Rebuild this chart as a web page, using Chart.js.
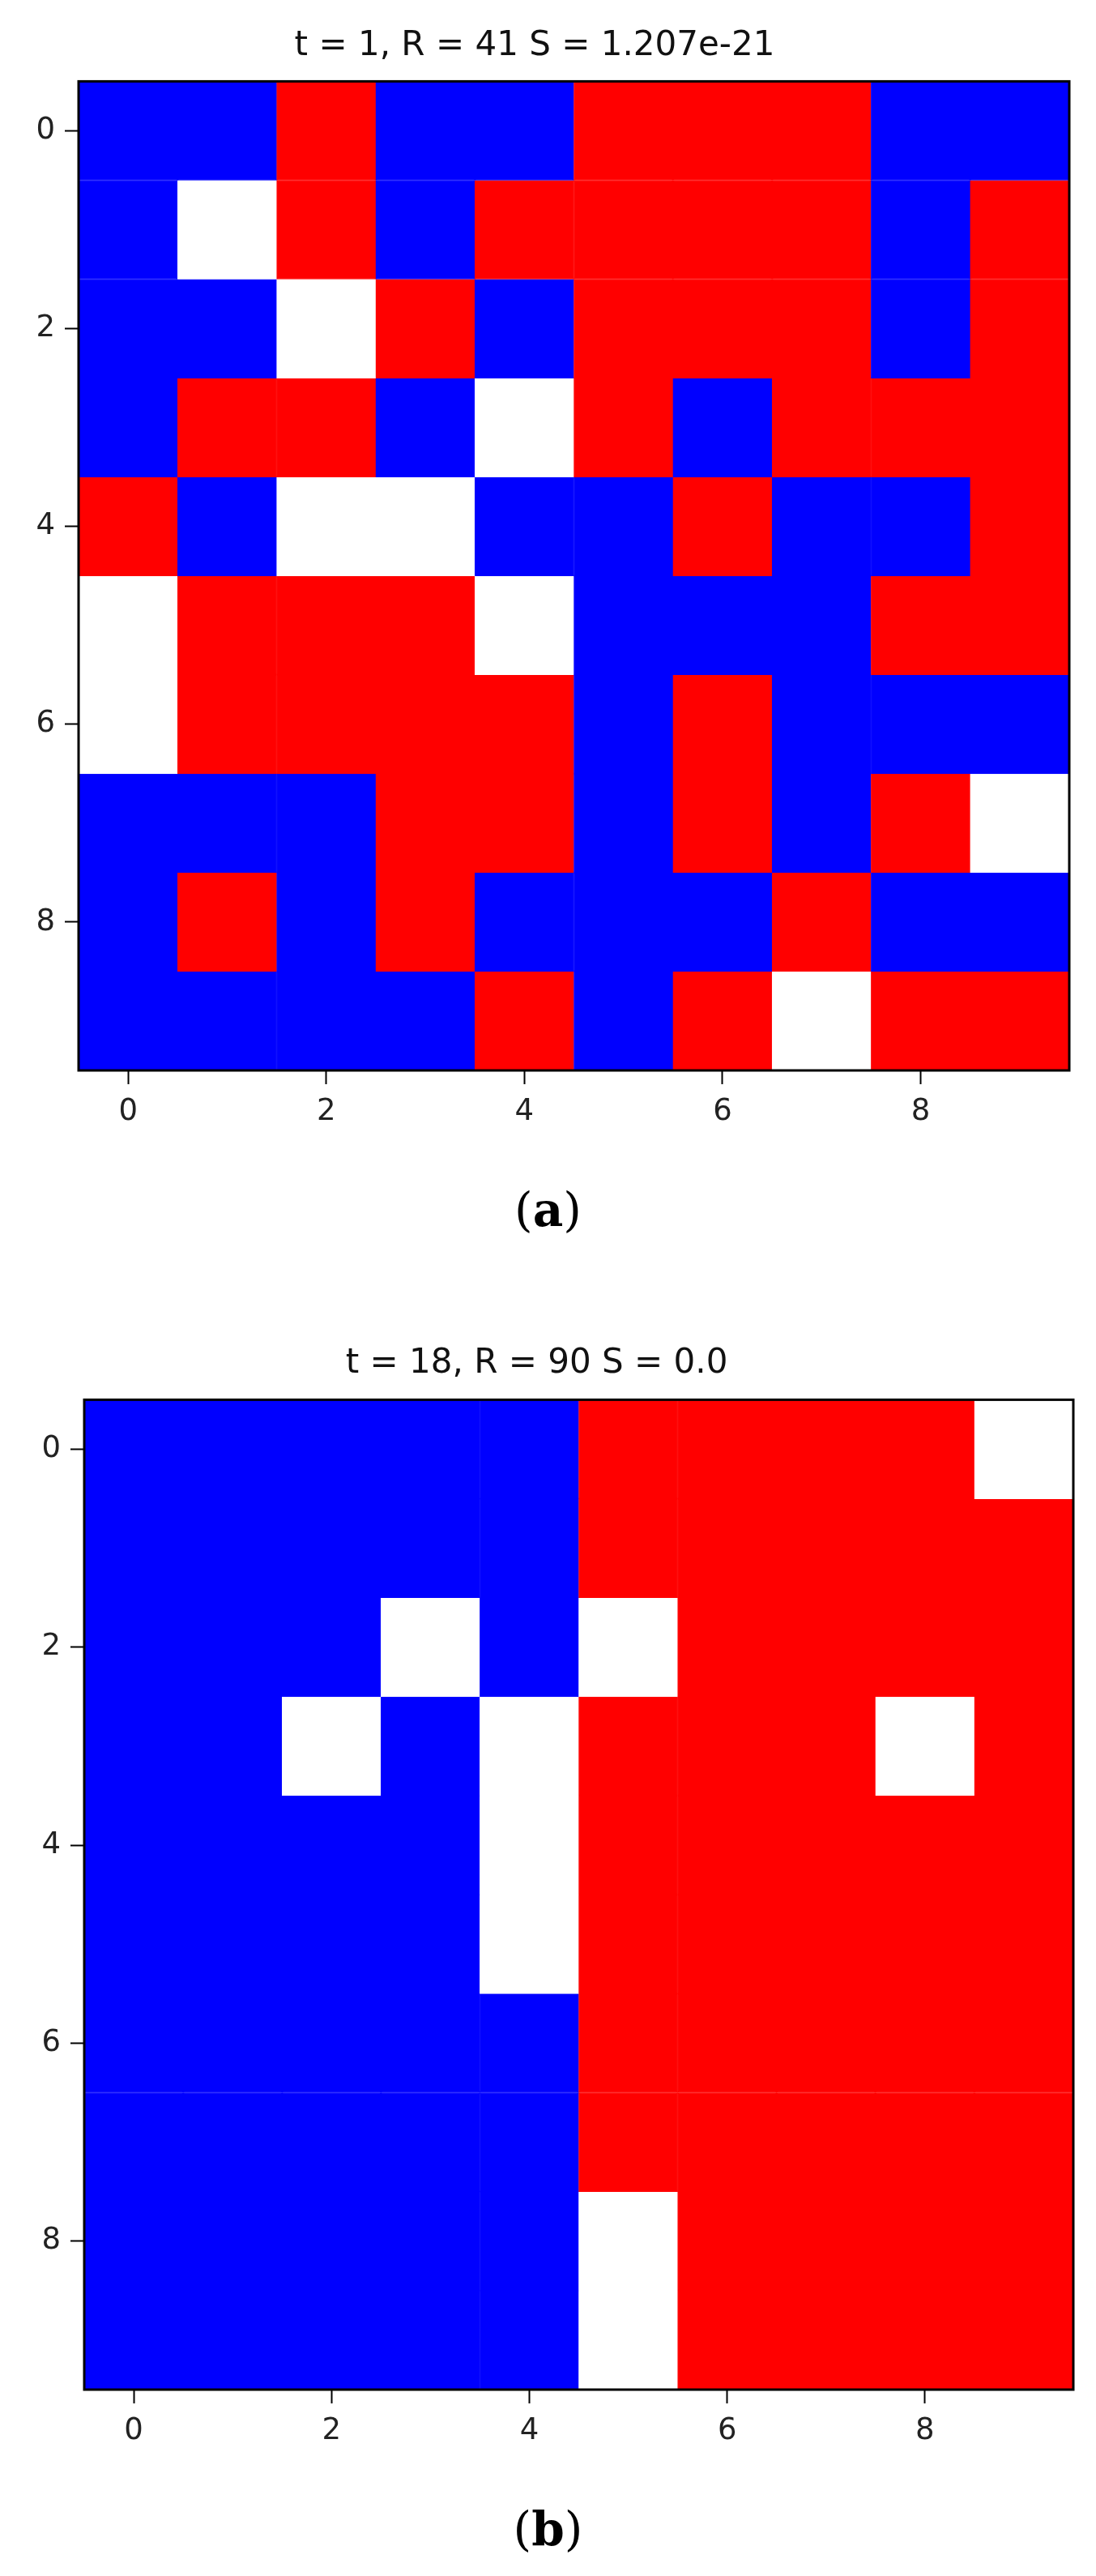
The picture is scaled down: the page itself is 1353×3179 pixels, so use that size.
<!DOCTYPE html>
<html>
<head>
<meta charset="utf-8">
<script src="https://cdn.jsdelivr.net/npm/chart.js@4.4.1/dist/chart.umd.min.js"></script>
<style>
  body { margin: 0; background: #fff; width: 1353px; height: 3179px; position: relative; }
  .plot { position: absolute; left: 0; width: 1353px; }
  .cap { position: absolute; left: 0; width: 1353px; text-align: center;
         font-family: "DejaVu Serif", "Liberation Serif", serif; font-size: 58px; line-height: 70px; }
  .cap b { font-weight: bold; }
</style>
</head>
<body>
<div class="plot" style="top:0;height:1401px"><canvas id="a"></canvas></div>
<div class="cap" style="top:1458px">(<b>a</b>)</div>
<div class="plot" style="top:1600px;height:1429px"><canvas id="b"></canvas></div>
<div class="cap" style="top:3086px">(<b>b</b>)</div>
<script>
// 1 = blue, -1 = red, 0 = empty
const gridA = [
  [ 1, 1,-1, 1, 1,-1,-1,-1, 1, 1],
  [ 1, 0,-1, 1,-1,-1,-1,-1, 1,-1],
  [ 1, 1, 0,-1, 1,-1,-1,-1, 1,-1],
  [ 1,-1,-1, 1, 0,-1, 1,-1,-1,-1],
  [-1, 1, 0, 0, 1, 1,-1, 1, 1,-1],
  [ 0,-1,-1,-1, 0, 1, 1, 1,-1,-1],
  [ 0,-1,-1,-1,-1, 1,-1, 1, 1, 1],
  [ 1, 1, 1,-1,-1, 1,-1, 1,-1, 0],
  [ 1,-1, 1,-1, 1, 1, 1,-1, 1, 1],
  [ 1, 1, 1, 1,-1, 1,-1, 0,-1,-1]
]
const gridB = [
  [ 1, 1, 1, 1, 1,-1,-1,-1,-1, 0],
  [ 1, 1, 1, 1, 1,-1,-1,-1,-1,-1],
  [ 1, 1, 1, 0, 1, 0,-1,-1,-1,-1],
  [ 1, 1, 0, 1, 0,-1,-1,-1, 0,-1],
  [ 1, 1, 1, 1, 0,-1,-1,-1,-1,-1],
  [ 1, 1, 1, 1, 0,-1,-1,-1,-1,-1],
  [ 1, 1, 1, 1, 1,-1,-1,-1,-1,-1],
  [ 1, 1, 1, 1, 1,-1,-1,-1,-1,-1],
  [ 1, 1, 1, 1, 1, 0,-1,-1,-1,-1],
  [ 1, 1, 1, 1, 1, 0,-1,-1,-1,-1]
]
const titleA = 't = 1, R = 41 S = 1.207e-21'
const titleB = 't = 18, R = 90 S = 0.0'
const tickValues = [0, 2, 4, 6, 8]
const colours = { '1': '#0000ff', '-1': '#ff0000', '0': '#ffffff' }

const frame = {
  id: 'frame',
  afterDraw (chart) {
    const { ctx, chartArea: a } = chart
    ctx.save()
    ctx.strokeStyle = '#000'
    ctx.lineWidth = 3
    ctx.strokeRect(a.left, a.top, a.right - a.left, a.bottom - a.top)
    ctx.restore()
  }
}

const axis = (reverse, afterFit, pad) => ({
  type: 'linear', min: -0.5, max: 9.5, reverse, offset: false,
  afterBuildTicks: s => { s.ticks = tickValues.map(v => ({ value: v })) },
  afterFit,
  grid: { drawOnChartArea: false, offset: false, color: '#000', tickLength: 17, tickWidth: 2 },
  border: { display: false },
  ticks: { color: '#222', padding: pad, font: { family: 'DejaVu Sans', size: 37 } }
})

const heatmap = (id, grid, title, left, right, titleTop, titleBottom) => new Chart(document.getElementById(id), {
  type: 'bar',
  data: {
    datasets: grid.map((row, r) => ({
      data: row.map((v, c) => ({ x: c, y: [r - 0.5, r + 0.5] })),
      backgroundColor: row.map(v => colours[v]),
      borderColor: row.map(v => colours[v]),
      borderWidth: 1,
      borderSkipped: false,
      grouped: false,
      barPercentage: 1,
      categoryPercentage: 1
    }))
  },
  options: {
    responsive: true,
    maintainAspectRatio: false,
    animation: false,
    layout: { padding: { left: 0, right } },
    plugins: {
      legend: { display: false },
      tooltip: { enabled: false },
      title: {
        display: true, text: title, color: '#111',
        font: { family: 'DejaVu Sans', size: 42, weight: 'normal' },
        padding: { top: titleTop, bottom: titleBottom }
      }
    },
    scales: {
      x: axis(false, s => { s.height = 80 }, 12),
      y: axis(true, s => { s.width = left }, 12)
    }
  },
  plugins: [frame]
})

heatmap('a', gridA, titleA, 97, 33, 32, 18)
heatmap('b', gridB, titleB, 104, 28, 58, 19)
</script>
</body>
</html>
